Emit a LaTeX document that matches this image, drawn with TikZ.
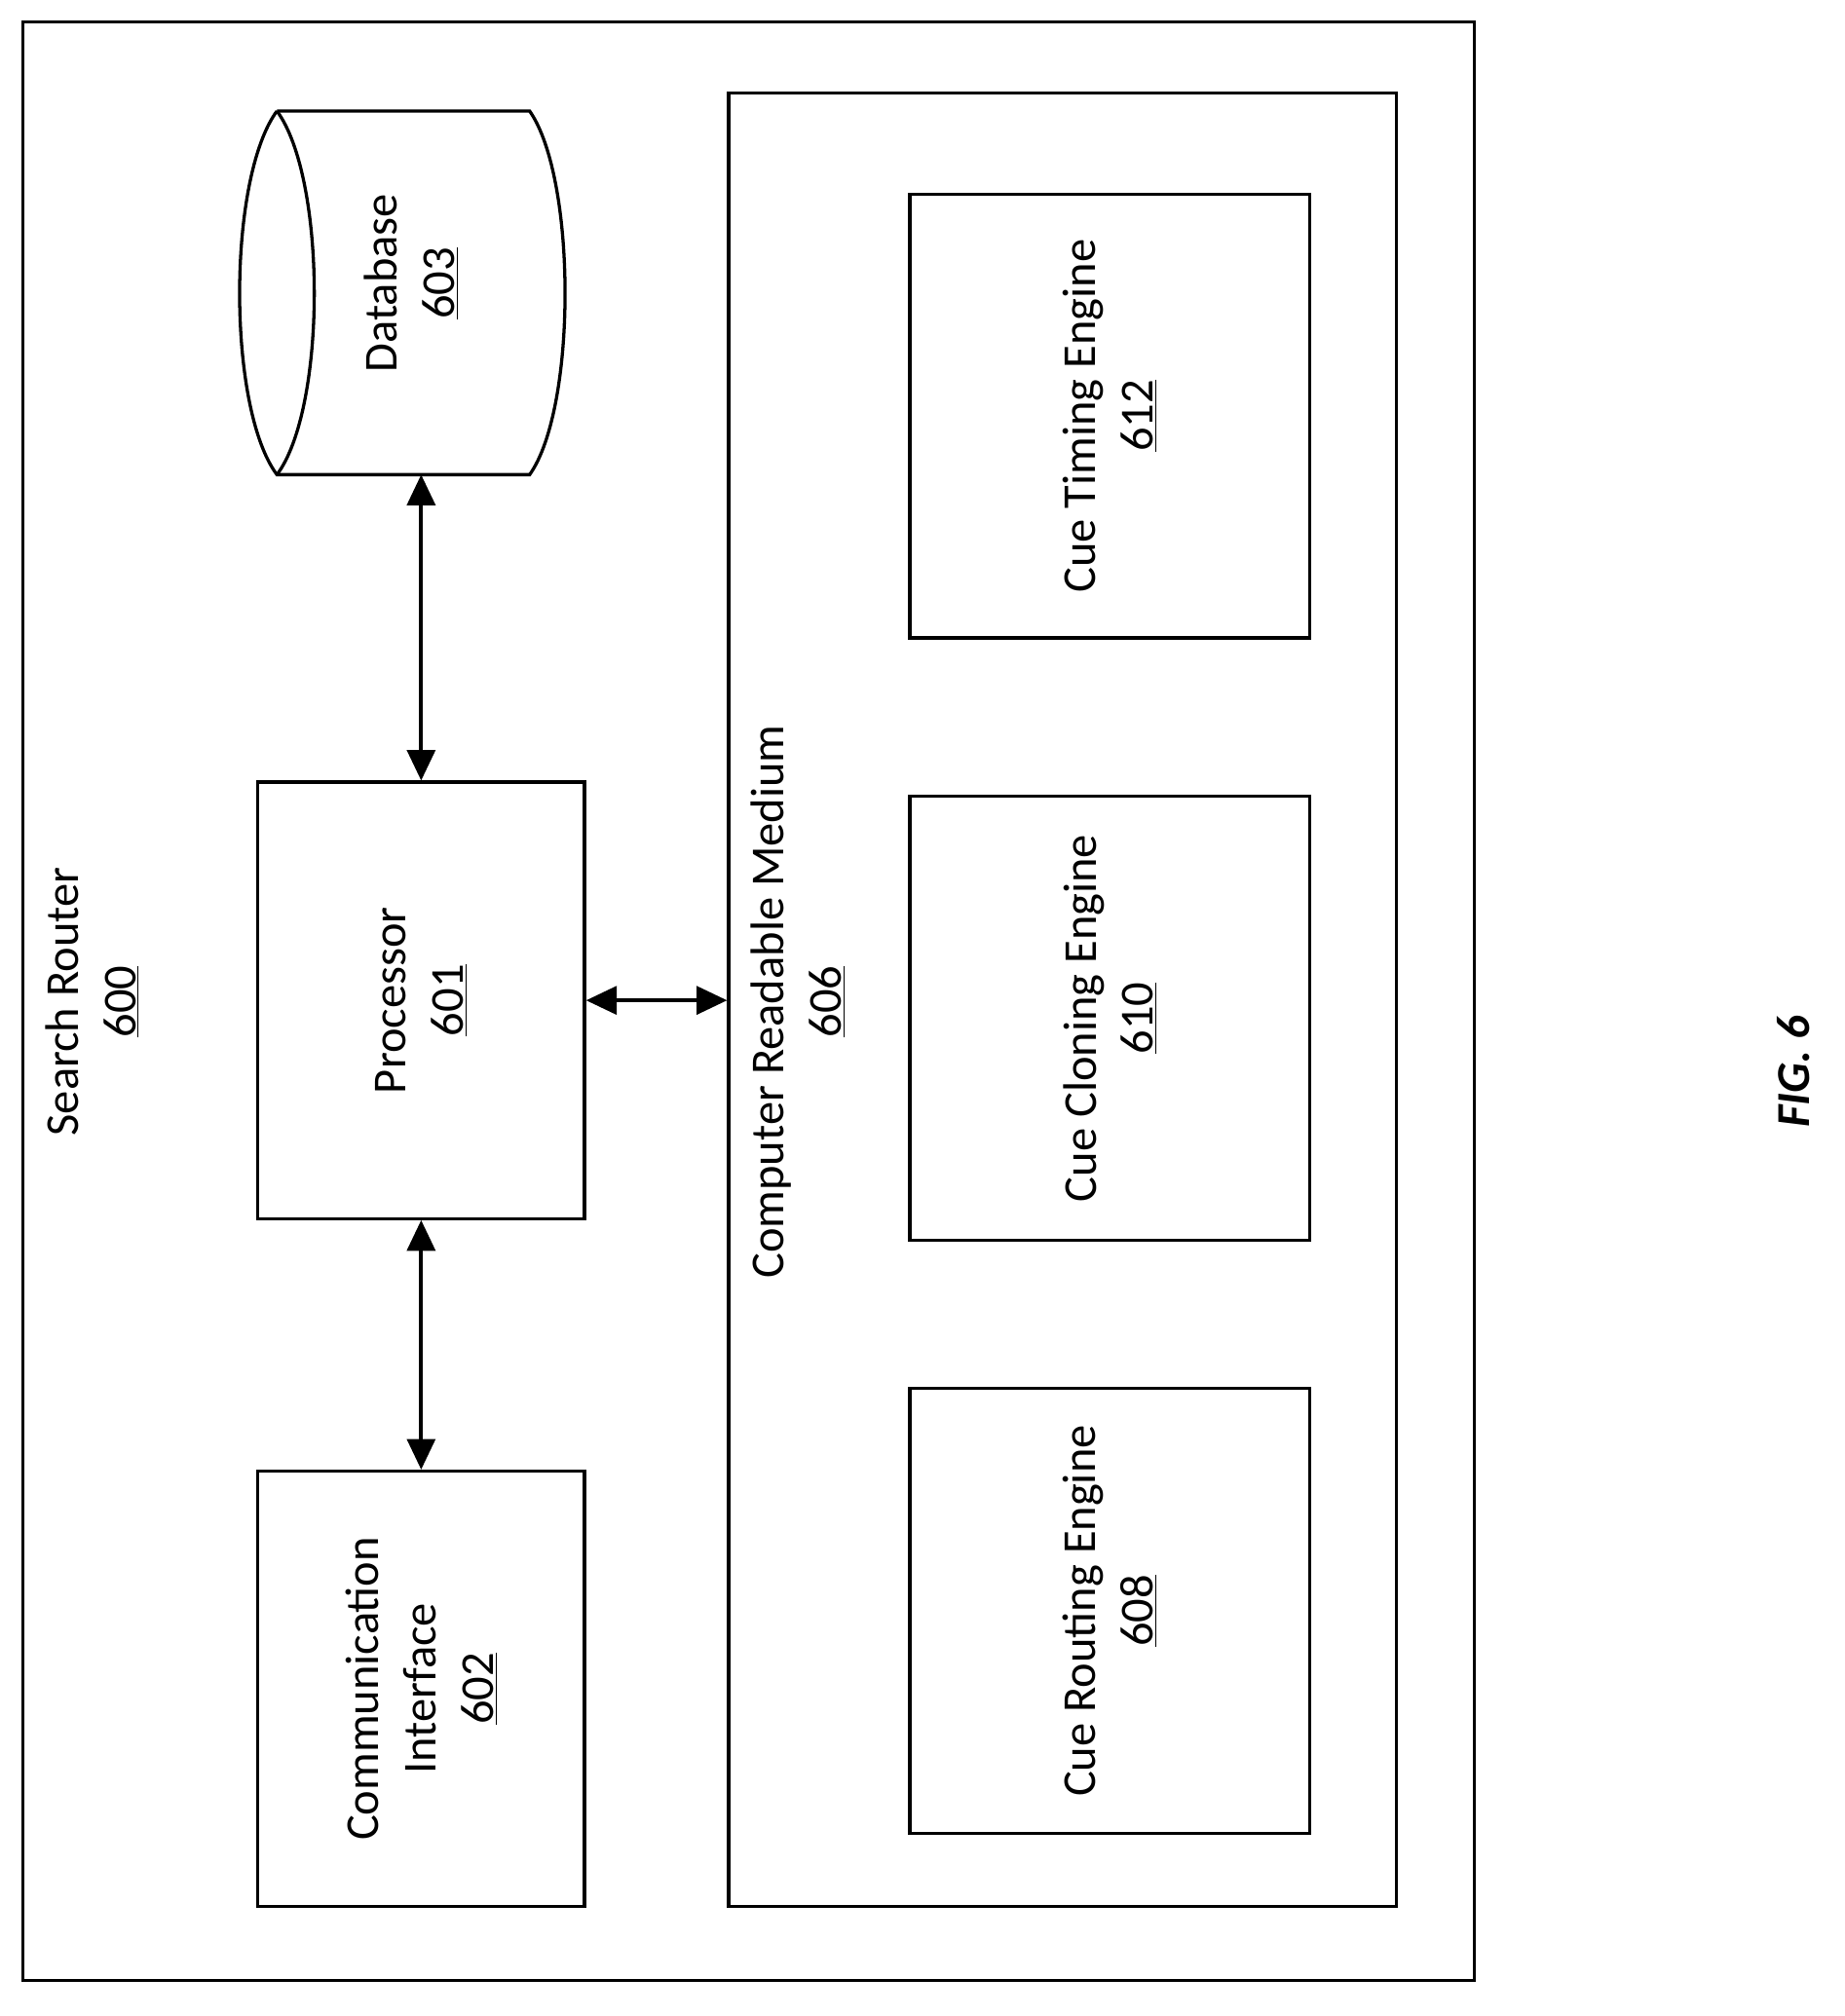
\documentclass[tikz,border=0pt]{standalone}
\usepackage{fontspec}
\setmainfont{Carlito}
\usetikzlibrary{arrows.meta,positioning}
\tikzset{
  box/.style={draw,line width=2.5pt,rotate=90,align=center,inner sep=0pt},
  lbl/.style={rotate=90,align=center,inner sep=0pt},
  link/.style={line width=3pt,{Triangle[length=24pt,width=22pt]}-{Triangle[length=24pt,width=22pt]}}
}
\begin{document}
\begin{tikzpicture}[x=1pt,y=-1pt,font=\fontsize{37}{45}\selectfont]
  \useasboundingbox (0,0) rectangle (1445,1580);
  % outer frame and medium
  \draw[line width=2.5pt] (18,17) rectangle (1155,1552);
  \node[box,minimum width=1421pt,minimum height=523pt] (crm) at (832.5,783.5) {};
  \node[lbl] (router) at (72,785) {Search Router\\\underline{600}};
  \node[lbl] (crmlbl) at (625,785) {Computer Readable Medium\\\underline{606}};

  % database cylinder
  \draw[line width=2.5pt] (217,87) -- (415,87) .. controls (452,140) and (452,320) .. (415,372)
    -- (217,372) .. controls (178,320) and (178,140) .. (217,87);
  \draw[line width=2.5pt] (217,87) .. controls (256,140) and (256,320) .. (217,372);
  \coordinate (dbB) at (330,372);
  \node[lbl] (db) at (322,222) {Database\\\underline{603}};

  % blocks
  \node[box,minimum width=342pt,minimum height=256pt] (proc) at (330,784) {Processor\\\underline{601}};
  \node[box,minimum width=341pt,minimum height=256pt] (comm) at (330,1323.5) {Communication\\Interface\\\underline{602}};
  \node[box,minimum width=348pt,minimum height=313pt] (timing) at (869.5,326) {Cue Timing Engine\\\underline{612}};
  \node[box,minimum width=348pt,minimum height=313pt] (cloning) at (869.5,798) {Cue Cloning Engine\\\underline{610}};
  \node[box,minimum width=349pt,minimum height=313pt] (routing) at (869.5,1262.5) {Cue Routing Engine\\\underline{608}};

  % connectors
  \draw[link] (dbB) -- (proc.east);
  \draw[link] (proc.west) -- (comm.east);
  \draw[link] (proc.south) -- (proc.south -| crm.north);

  \node[lbl,font=\fontsize{37}{45}\selectfont\bfseries\itshape] (fig) at (1405,840) {FIG. 6};
\end{tikzpicture}
\end{document}
